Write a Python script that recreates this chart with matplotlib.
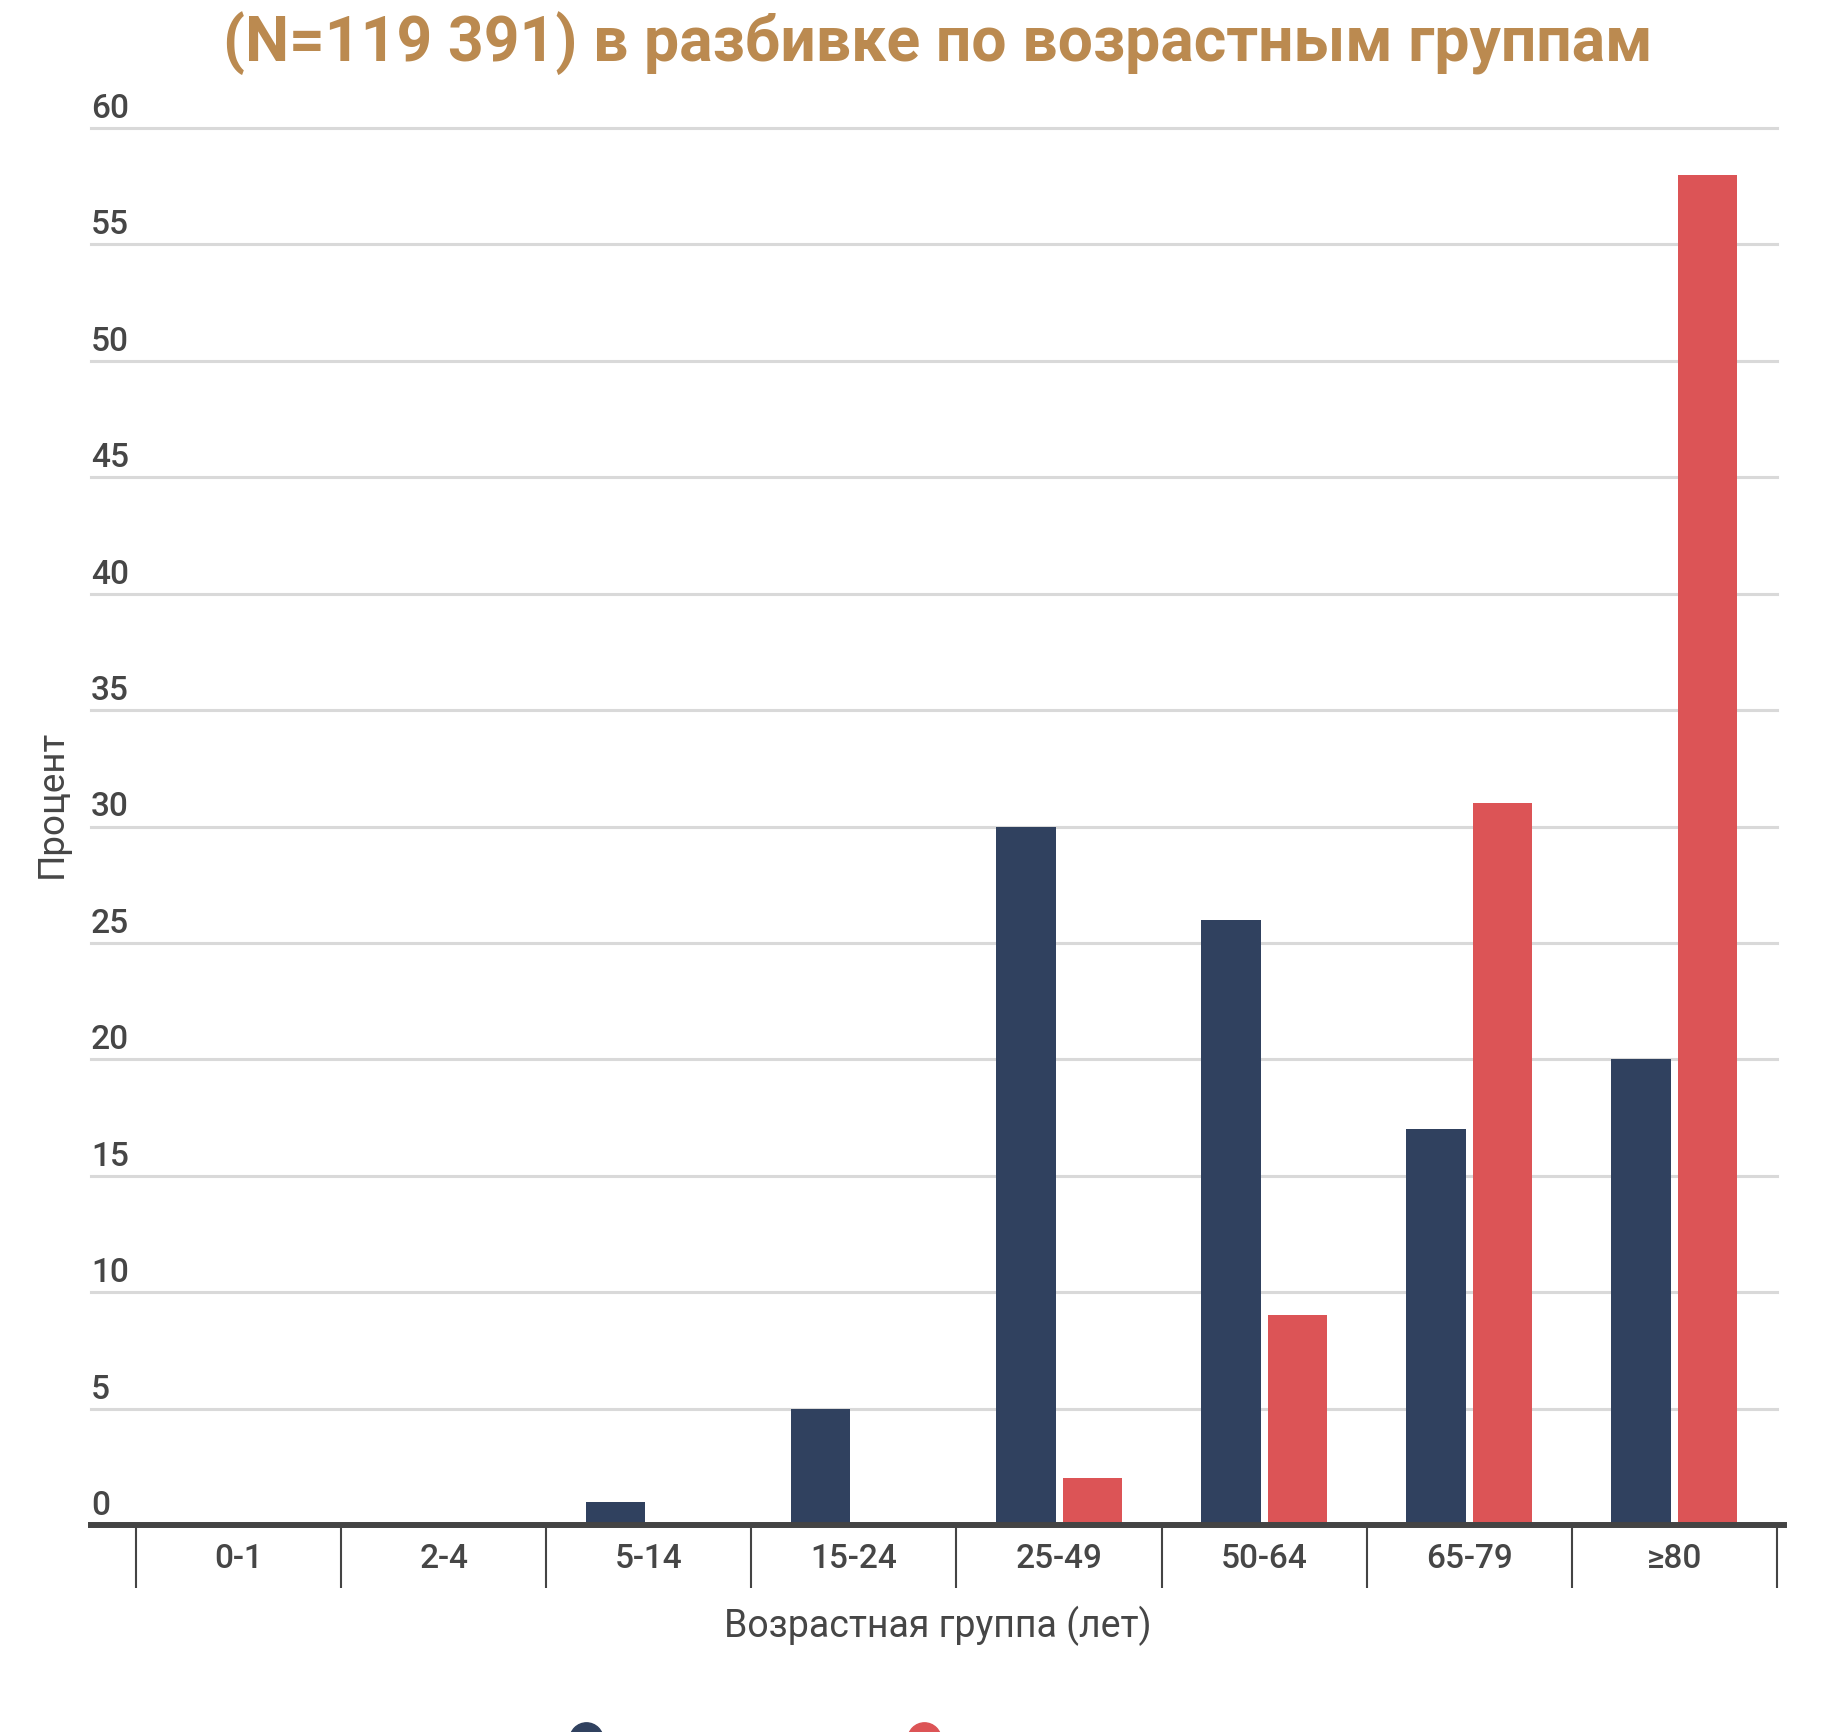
import matplotlib
matplotlib.use("Agg")
import matplotlib.pyplot as plt
import matplotlib.transforms as mtransforms
from matplotlib.lines import Line2D
import numpy as np

plt.rcParams['font.family'] = ['Roboto', 'DejaVu Sans']

# data
age_groups = ['0-1', '2-4', '5-14', '15-24', '25-49', '50-64', '65-79', '≥80']
series_blue = [0, 0, 1, 5, 30, 26, 17, 20]
series_red = [0, 0, 0, 0, 2, 9, 31, 58]
y_ticks = [0, 5, 10, 15, 20, 25, 30, 35, 40, 45, 50, 55, 60]

title_line = '(N=119 391) в разбивке по возрастным группам'
x_label = 'Возрастная группа (лет)'
y_label = 'Процент'

BLUE = '#30415f'
RED = '#dc5456'
TEXT = '#464646'
GRID = '#d9d9d9'
GOLD = '#bb8a50'

W, H = 1827, 1732
fig = plt.figure(figsize=(W / 100, H / 100), dpi=100)
ax = fig.add_axes([91 / W, 1 - 1525 / H, (1784 - 91) / W, (1525 - 128) / H])

x = np.arange(len(age_groups))
bw = 0.29
off = 0.162
ax.bar(x - off, series_blue, bw, color=BLUE, zorder=3)
ax.bar(x + off, series_red, bw, color=RED, zorder=3)

ax.set_xlim(-0.719, 7.534)
ax.set_ylim(0, 60)

# horizontal grid lines
for v in y_ticks[1:]:
    ax.plot([-0.719, 7.5], [v, v], color=GRID, lw=2.2, zorder=1, clip_on=False)

# y tick labels sit above the grid lines
blend = mtransforms.blended_transform_factory(ax.transAxes, ax.transData)
for v in y_ticks:
    tr = blend + mtransforms.ScaledTranslation(0, 10 / 100, fig.dpi_scale_trans)
    ax.text(0, v, str(v), transform=tr, ha='left', va='baseline',
            fontsize=24, fontweight='medium', color=TEXT)

ax.set_yticks([])
for s in ['left', 'right', 'top']:
    ax.spines[s].set_visible(False)
ax.spines['bottom'].set_color('#444444')
ax.spines['bottom'].set_linewidth(4.3)
ax.spines['bottom'].set_zorder(4)

# category boundary ticks
ax.set_xticks(np.arange(-0.5, 8, 1))
ax.set_xticklabels([])
ax.tick_params(axis='x', length=45, width=1.5, color='#444444', direction='out')

blend_x = mtransforms.blended_transform_factory(ax.transData, ax.transAxes)
for i, lab in enumerate(age_groups):
    tr = blend_x + mtransforms.ScaledTranslation(0, -43 / 100, fig.dpi_scale_trans)
    ax.text(i, 0, lab, transform=tr, ha='center', va='baseline',
            fontsize=24, fontweight='medium', color=TEXT)

fig.text(938 / W, 1 - 1637 / H, x_label, ha='center', va='baseline',
         fontsize=27, color=TEXT)
fig.text(52 / W, 1 - 804 / H, y_label, ha='center', va='center', rotation=90,
         fontsize=26.5, color=TEXT)

fig.text(938 / W, 1 - 61 / H, title_line, ha='center', va='baseline',
         fontsize=45, fontweight='bold', color=GOLD)

# legend markers, mostly cut off at the bottom edge
for xm, c in [(586, BLUE), (924, RED)]:
    fig.add_artist(Line2D([xm / W], [1 - 1739 / H], marker='o', markersize=24,
                          color=c, linestyle='none', transform=fig.transFigure))

fig.savefig('out.png', dpi=100, facecolor='white')
